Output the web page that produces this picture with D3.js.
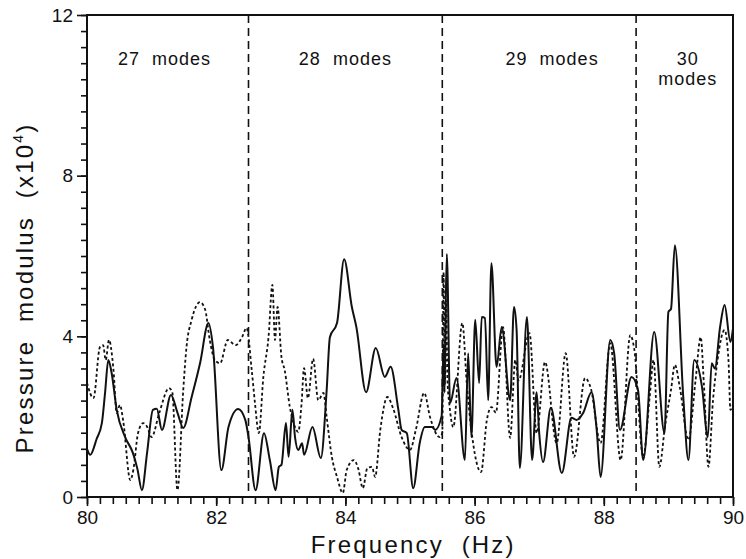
<!DOCTYPE html>
<html>
<head>
<meta charset="utf-8">
<script src="https://cdn.jsdelivr.net/npm/d3@7"></script>
<style>
  html, body { margin: 0; padding: 0; background: #fff; }
  svg { display: block; }
  text { font-family: "Liberation Sans", Arial, sans-serif; fill: #111; }
</style>
</head>
<body>
<svg id="chart" width="746" height="559"></svg>
<script>
// Pressure modulus (x10^4) vs frequency, two receiver responses
const solidSeries = [
  [80.00,1.20],[80.05,1.05],[80.15,1.45],[80.23,1.84],[80.28,2.60],[80.33,3.41],[80.38,3.10],
  [80.46,2.17],[80.59,1.49],[80.71,1.10],[80.78,0.70],[80.85,0.17],[80.93,1.10],[81.02,2.17],
  [81.08,2.20],[81.16,1.67],[81.30,2.54],[81.40,2.10],[81.49,1.72],[81.62,2.49],[81.75,3.33],
  [81.88,4.33],[81.95,3.73],[82.08,0.67],[82.19,1.74],[82.34,2.19],[82.45,1.92],[82.50,1.49],
  [82.61,0.17],[82.74,1.59],[82.83,0.92],[82.92,0.17],[82.97,0.75],[83.01,0.80],[83.08,1.84],
  [83.12,1.00],[83.18,2.17],[83.22,1.49],[83.27,1.17],[83.33,1.34],[83.36,1.05],[83.49,1.74],
  [83.62,0.97],[83.71,2.66],[83.76,3.98],[83.87,4.33],[83.98,5.92],[84.10,4.73],[84.17,4.23],
  [84.32,2.61],[84.47,3.71],[84.61,2.99],[84.70,3.24],[84.82,2.17],[84.87,1.67],[84.95,1.59],
  [85.05,0.22],[85.15,1.34],[85.23,1.74],[85.34,1.74],[85.39,1.67],[85.49,2.02],[85.52,3.80],
  [85.535,2.60],[85.55,4.50],[85.57,6.05],[85.62,2.34],[85.72,2.96],[85.85,0.92],[85.90,3.58],
  [85.95,1.49],[86.01,4.41],[86.07,2.84],[86.11,4.48],[86.16,4.46],[86.21,2.41],[86.26,5.82],
  [86.34,3.24],[86.42,4.23],[86.55,2.41],[86.61,4.73],[86.65,4.16],[86.70,0.72],[86.81,4.48],
  [86.89,0.92],[86.96,2.61],[87.00,1.59],[87.06,0.87],[87.18,2.22],[87.35,0.60],[87.50,1.97],
  [87.58,1.92],[87.68,2.09],[87.81,2.61],[87.89,1.67],[87.95,0.50],[88.10,3.91],[88.16,3.58],
  [88.25,1.67],[88.43,2.99],[88.53,2.66],[88.61,0.92],[88.78,4.11],[88.94,1.59],[89.00,4.61],
  [89.04,4.68],[89.10,6.27],[89.23,2.49],[89.31,0.92],[89.40,3.41],[89.52,2.74],[89.61,1.49],
  [89.67,3.33],[89.72,3.20],[89.80,4.23],[89.87,4.78],[89.96,3.86],[90.00,4.20]
];

const dashedSeries = [
  [80.00,2.84],[80.10,2.46],[80.20,3.73],[80.25,3.78],[80.29,3.41],[80.34,3.91],[80.41,3.16],
  [80.46,2.09],[80.51,2.29],[80.56,1.90],[80.67,0.42],[80.72,0.70],[80.79,1.59],[80.87,1.84],
  [80.93,1.75],[81.00,1.49],[81.12,2.10],[81.27,2.71],[81.32,2.61],[81.40,0.17],[81.49,2.66],
  [81.54,3.73],[81.62,4.41],[81.75,4.85],[81.83,4.66],[81.90,3.91],[81.98,3.41],[82.06,3.33],
  [82.18,3.91],[82.30,3.78],[82.40,3.98],[82.47,4.21],[82.55,3.16],[82.60,2.34],[82.66,1.59],
  [82.73,2.99],[82.81,3.98],[82.87,5.28],[82.91,3.91],[82.95,4.73],[83.01,3.49],[83.06,3.16],
  [83.14,2.24],[83.22,1.74],[83.27,1.62],[83.32,2.30],[83.36,3.21],[83.42,2.46],[83.50,3.44],
  [83.58,2.41],[83.66,2.59],[83.71,1.99],[83.79,1.00],[83.87,0.50],[83.96,0.10],[84.02,0.67],
  [84.13,0.92],[84.20,0.70],[84.27,0.22],[84.34,0.72],[84.41,0.75],[84.46,0.50],[84.54,1.67],
  [84.65,2.49],[84.74,2.20],[84.87,1.49],[85.00,1.17],[85.09,1.67],[85.22,2.59],[85.31,1.99],
  [85.46,1.49],[85.50,1.60],[85.52,5.60],[85.54,2.80],[85.56,4.90],[85.58,2.90],
  [85.61,2.30],[85.67,1.74],[85.81,4.33],[85.88,2.80],[85.95,1.67],[86.10,0.62],[86.19,1.92],
  [86.26,2.24],[86.33,2.10],[86.44,4.23],[86.55,1.47],[86.63,3.41],[86.68,2.90],[86.85,4.08],
  [86.96,1.59],[87.09,3.36],[87.27,1.34],[87.41,3.58],[87.54,1.00],[87.71,2.96],[87.80,2.70],
  [87.95,1.34],[88.10,3.83],[88.26,0.92],[88.41,4.03],[88.47,3.70],[88.61,1.00],[88.71,2.49],
  [88.77,3.41],[88.86,0.75],[88.95,1.80],[89.04,2.66],[89.10,3.29],[89.18,2.70],[89.31,1.42],
  [89.42,2.90],[89.50,3.98],[89.55,2.80],[89.62,0.75],[89.69,2.40],[89.76,3.40],[89.87,4.16],
  [89.93,3.40],[89.96,2.17],[90.00,2.30]
];

// Boundaries between mode-count bands
const bandEdges = [82.5, 85.5, 88.5];
const bandLabels = [
  { f: 81.2, lines: ["27\u00a0\u00a0modes"] },
  { f: 84.0, lines: ["28\u00a0\u00a0modes"] },
  { f: 87.2, lines: ["29\u00a0\u00a0modes"] },
  { f: 89.3, lines: ["30", "modes"] }
];

const xMajor = [80, 82, 84, 86, 88, 90];
const yMajor = [0, 4, 8, 12];

const margin = { left: 87, right: 13, top: 15, bottom: 62 };
const W = 746, H = 559;
const iw = W - margin.left - margin.right;
const ih = H - margin.top - margin.bottom;

const svg = d3.select("#chart");
svg.append("rect").attr("width", W).attr("height", H).attr("fill", "#fff");
const g = svg.append("g").attr("transform", `translate(${margin.left},${margin.top})`);

const x = d3.scaleLinear().domain([80, 90]).range([0, iw]);
const y = d3.scaleLinear().domain([0, 12]).range([ih, 0]);

// minor ticks
g.append("g").attr("transform", `translate(0,${ih})`)
  .call(d3.axisBottom(x).tickValues(d3.range(0, 51).map(i => 80 + i * 0.2)).tickSize(7).tickFormat(""))
  .call(a => a.select(".domain").remove());
g.append("g")
  .call(d3.axisLeft(y).tickValues(d3.range(0, 31).map(i => i * 0.4)).tickSize(6).tickFormat(""))
  .call(a => a.select(".domain").remove());

// major ticks with labels
g.append("g").attr("class", "xmaj").attr("transform", `translate(0,${ih})`)
  .call(d3.axisBottom(x).tickValues(xMajor).tickSize(9).tickPadding(5).tickFormat(d3.format("d")))
  .call(a => a.select(".domain").remove());
g.append("g").attr("class", "ymaj")
  .call(d3.axisLeft(y).tickValues(yMajor).tickSize(10).tickPadding(4).tickFormat(d3.format("d")))
  .call(a => a.select(".domain").remove());

g.selectAll(".tick line").attr("stroke", "#111").attr("stroke-width", 1.6);
g.selectAll(".xmaj text, .ymaj text")
  .attr("font-family", "Liberation Sans, Arial, sans-serif")
  .attr("font-size", 19).attr("fill", "#111");

// band separators
g.selectAll(".band").data(bandEdges).join("line")
  .attr("x1", d => x(d)).attr("x2", d => x(d))
  .attr("y1", 0).attr("y2", ih)
  .attr("stroke", "#111").attr("stroke-width", 1.6)
  .attr("stroke-dasharray", "8,5");

// series
const line = d3.line().x(d => x(d[0])).y(d => y(d[1])).curve(d3.curveMonotoneX);

g.append("path").datum(dashedSeries)
  .attr("d", line).attr("fill", "none")
  .attr("stroke", "#111").attr("stroke-width", 1.8)
  .attr("stroke-dasharray", "3,2.5");

g.append("path").datum(solidSeries)
  .attr("d", line).attr("fill", "none")
  .attr("stroke", "#111").attr("stroke-width", 2)
  .attr("stroke-linejoin", "round");

// frame
g.append("rect").attr("width", iw).attr("height", ih)
  .attr("fill", "none").attr("stroke", "#111").attr("stroke-width", 2);

// band labels
bandLabels.forEach(b => {
  const t = g.append("text").attr("text-anchor", "middle")
    .attr("font-size", 18).attr("letter-spacing", 1);
  b.lines.forEach((s, i) => {
    t.append("tspan").attr("x", x(b.f)).attr("y", 50 + i * 20).text(s);
  });
});

// axis titles
svg.append("text")
  .attr("x", margin.left + x(85.05)).attr("y", 553)
  .attr("text-anchor", "middle").attr("font-size", 24).attr("letter-spacing", 2.2)
  .text("Frequency\u00a0\u00a0(Hz)");

const yt = svg.append("text")
  .attr("transform", "translate(33,288) rotate(-90)")
  .attr("text-anchor", "middle").attr("font-size", 24).attr("letter-spacing", 2.2);
yt.append("tspan").text("Pressure\u00a0\u00a0modulus\u00a0\u00a0(x10");
yt.append("tspan").attr("font-size", 14).attr("dy", -10).text("4");
yt.append("tspan").attr("dy", 10).text(")");
</script>
</body>
</html>
